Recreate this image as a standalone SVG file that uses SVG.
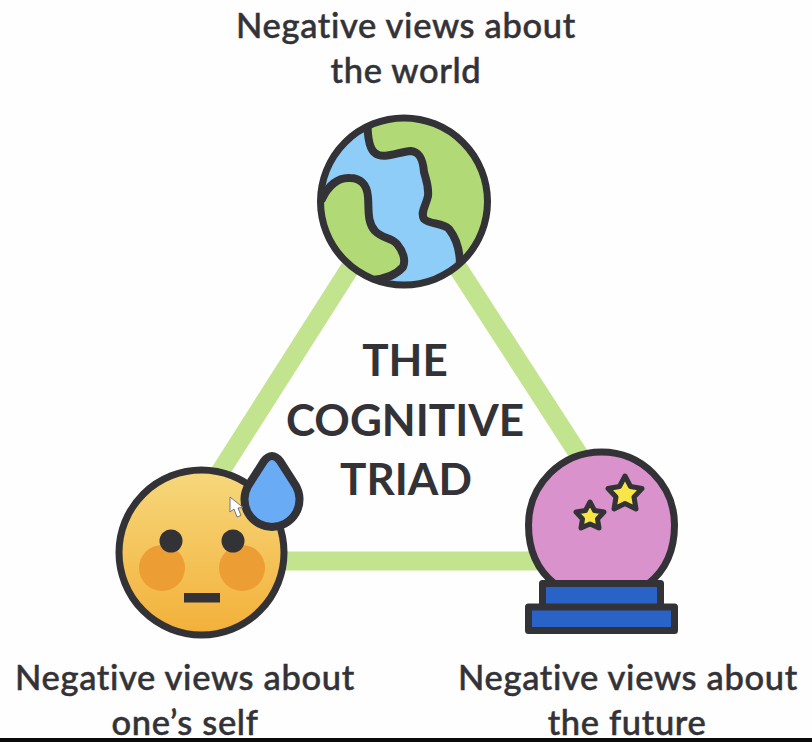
<svg xmlns="http://www.w3.org/2000/svg" width="812" height="742" viewBox="0 0 812 742">
<style>
.o{stroke:#333236;stroke-width:7;stroke-linejoin:round;stroke-linecap:round}
.g{stroke-width:8}
.s{stroke-width:5}
.l{font-family:Lato,"Liberation Sans",sans-serif;font-size:34.5px;font-weight:500;fill:#333236;stroke:#333236;stroke-width:.5;text-anchor:middle;letter-spacing:.65px}
.t{font-family:Lato,"Liberation Sans",sans-serif;font-size:44px;font-weight:700;fill:#333236;text-anchor:middle}
.c{stroke:#c3e48f;stroke-width:19;fill:none}
</style>
<defs>
<linearGradient id="face" x1="0" y1="0" x2="0" y2="1"><stop offset="0" stop-color="#f6d87c"/><stop offset="1" stop-color="#f3b039"/></linearGradient>
<clipPath id="globeClip"><circle cx="404" cy="201.5" r="83.5"/></clipPath>
</defs>
<rect width="812" height="742" fill="#fefefe"/>
<g id="connectors">
<line class="c" x1="350" y1="268" x2="215" y2="480"/>
<line class="c" x1="458" y1="268" x2="590" y2="472"/>
<line class="c" x1="270" y1="561" x2="540" y2="561"/>
</g>
<g id="world">
<circle cx="404" cy="201.5" r="83.5" fill="#8dcdf8"/>
<g clip-path="url(#globeClip)">
<path class="o g" fill="#b1d975" d="M368 118C367 130 368 148 375 153C383 160 398 152 411 151C420 152 423 160 424 172C426 180 429 186 428 196C426 206 420 212 424 219C430 225 442 222 449 229C456 238 460 250 460 265L500 240L500 100L400 100Z"/>
<path class="o g" fill="#b1d975" d="M322 199C328 186 338 177 350 178C360 178 367 184 368 197C369 210 367 222 375 231C383 239 391 237 397 244C403 251 406 260 403 267C396 275 385 279 372 280L340 290L300 220Z"/>
</g>
<circle cx="404" cy="201.5" r="83.5" fill="none" class="o"/>
<text class="l" x="406" y="38">Negative views about</text>
<text class="l" x="406" y="83">the world</text>
</g>
<g id="title">
<text class="t" x="405" y="376">THE</text>
<text class="t" x="405" y="436">COGNITIVE</text>
<text class="t" x="406" y="495">TRIAD</text>
</g>
<g id="self">
<circle cx="201.5" cy="552.5" r="82.5" fill="url(#face)" class="o"/>
<circle cx="162" cy="568" r="23" fill="#ec9d33"/>
<circle cx="242" cy="568" r="23" fill="#ec9d33"/>
<circle cx="171" cy="541" r="11.5" fill="#333236"/>
<circle cx="233" cy="541" r="11.5" fill="#333236"/>
<rect x="184" y="593" width="36" height="9.500" fill="#333236"/>
<path class="o g" fill="#6aabf5" d="M264 461Q272 451 280 461L296 486A27.500 27.500 0 1 1 248 486Z"/>
<path d="M230 497L230 512L234 509L237 517L241 515.500L238 508L243 507.500Z" fill="#fff" stroke="#777" stroke-width="1"/>
<text class="l" x="185" y="690">Negative views about</text>
<text class="l" x="185" y="735">one’s self</text>
</g>
<g id="future">
<path class="o" fill="#d992cc" d="M555 584C537 570 528.500 549 528.500 525A73 73 0 0 1 674.500 525C674.500 549 666 570 648 584Z"/>
<path class="o s" fill="#f9e546" d="M625 476L630.500 486.500L642 488.500L634 497L636 509L625 503.500L614 509L616 497L608 488.500L619.500 486.500Z"/>
<path class="o s" fill="#f9e546" d="M590 502L594.500 510.500L604 512L597.500 519L599 528L590 524L581 528L582.500 519L576 512L585.500 510.500Z"/>
<rect class="o" fill="#2a63c8" x="542.500" y="583.500" width="118" height="24"/>
<rect class="o" fill="#2a63c8" x="528.500" y="607" width="146" height="23.500"/>
<text class="l" x="628" y="690">Negative views about</text>
<text class="l" x="627" y="735">the future</text>
</g>
<rect id="bar" x="0" y="738" width="812" height="4" fill="#0b0b0b"/>
</svg>
